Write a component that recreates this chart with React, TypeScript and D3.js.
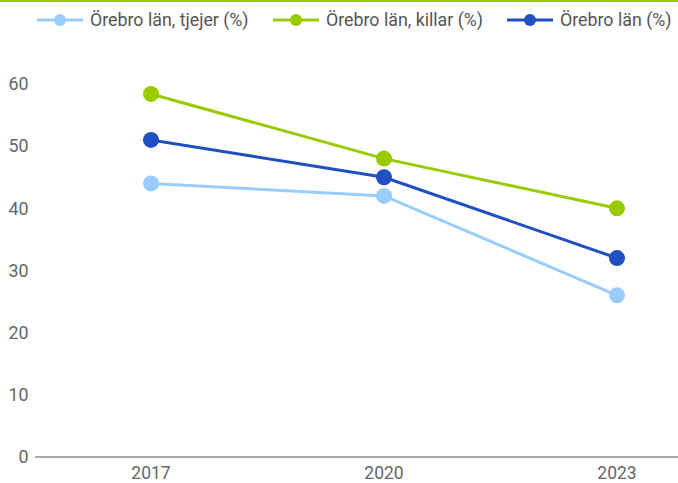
import React from "react";
import * as d3 from "d3";

const years = ["2017", "2020", "2023"];
const seriesNames = ["Örebro län, tjejer (%)", "Örebro län, killar (%)", "Örebro län (%)"];
const tjejer = [44, 42, 26];
const killar = [58.4, 48, 40];
const total = [51, 45, 32];
const yTicks = [0, 10, 20, 30, 40, 50, 60];
const colors = ["#99ccff", "#99cc00", "#1f4fc1"];

const W = 678, H = 483;

export default function App() {
  const x = d3.scalePoint<string>().domain(years).range([151, 617]);
  const y = d3.scaleLinear().domain([0, 60]).range([457, 84]);
  const data = [tjejer, killar, total];
  const line = d3.line<number>().x((_, i) => x(years[i])!).y((d) => y(d));
  const legendX = [37, 273, 507];
  return (
    <svg width={W} height={H} style={{ position: "absolute", left: 0, top: 0, fontFamily: "Roboto, sans-serif" }}>
      <rect x={0} y={0} width={W} height={H} fill="#fff" />
      <rect x={0} y={0} width={W} height={2} fill="#99cc00" />
      {seriesNames.map((n, i) => (
        <g key={n} transform={`translate(${legendX[i]},20)`}>
          <line x1={0} x2={46} y1={0} y2={0} stroke={colors[i]} strokeWidth={3} />
          <circle cx={23} cy={0} r={6} fill={colors[i]} />
          <text x={53} y={6.3} fontSize={17.8} fill="#555">{n}</text>
        </g>
      ))}
      {yTicks.map((t) => (
        <text key={t} x={28.5} y={y(t) + 6.3} textAnchor="end" fontSize={17.8} fill="#666">{t}</text>
      ))}
      <line x1={35} x2={W} y1={y(0)} y2={y(0)} stroke="#aaa" strokeWidth={2} />
      {years.map((yr) => (
        <text key={yr} x={x(yr)} y={479} textAnchor="middle" fontSize={17.5} fill="#666">{yr}</text>
      ))}
      {data.map((s, i) => (
        <g key={i}>
          <path d={line(s)!} fill="none" stroke={colors[i]} strokeWidth={3} />
          {s.map((v, j) => (
            <circle key={j} cx={x(years[j])} cy={y(v)} r={8} fill={colors[i]} />
          ))}
        </g>
      ))}
    </svg>
  );
}
